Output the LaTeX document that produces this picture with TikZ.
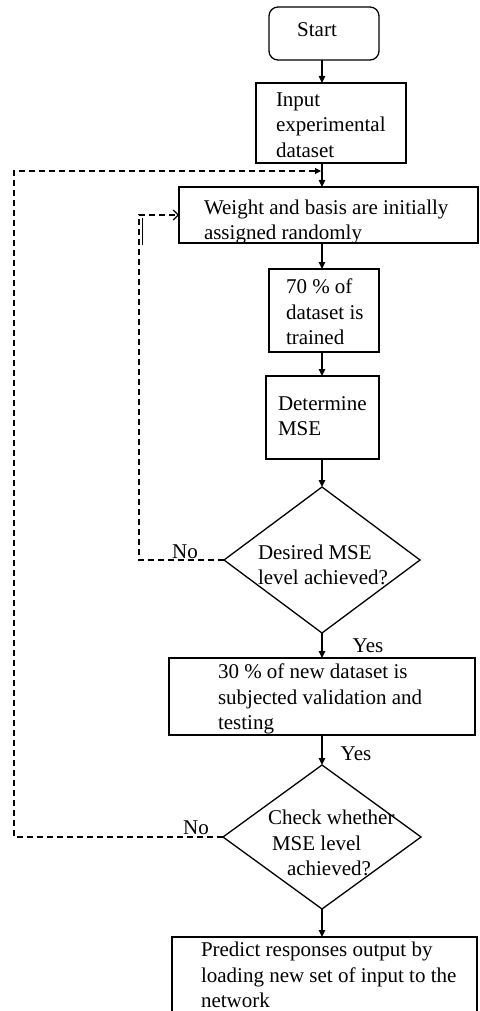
\documentclass[tikz,border=0pt]{standalone}
\usepackage{fontspec}
\setmainfont{Liberation Serif}
\usetikzlibrary{arrows.meta,shapes.geometric}
\begin{document}
\begin{tikzpicture}[x=1pt,y=-1pt,
  every node/.style={font=\fontsize{21}{25.5}\selectfont, inner sep=0pt, outer sep=0pt},
  boxnode/.style={draw, line width=1.3pt},
  diam/.style={draw, line width=1.3pt, shape=diamond, inner sep=0pt},
  txt/.style={anchor=west, align=left},
  arr/.style={line width=1.3pt, -{Triangle[length=7pt,width=6.5pt]}},
  dashline/.style={line width=1.1pt, dash pattern=on 6pt off 4pt},
]
\useasboundingbox (0,0) rectangle (479,1011);
\clip (0,0) rectangle (479,1011);

% boxes
\node[boxnode, rounded corners=9pt, minimum width=110pt, minimum height=53pt] (start) at (324,33.5) {};
\node[boxnode, minimum width=150pt, minimum height=80pt] (input) at (331,123) {};
\node[boxnode, minimum width=299pt, minimum height=56pt] (weight) at (328.5,215) {};
\node[boxnode, minimum width=110pt, minimum height=83pt] (train) at (324,310.5) {};
\node[boxnode, minimum width=113pt, minimum height=83pt] (mse) at (322.5,417.5) {};
\node[diam, minimum width=196pt, minimum height=146pt] (d1) at (322,560) {};
\node[boxnode, minimum width=306pt, minimum height=77pt] (val) at (322,696.5) {};
\node[diam, minimum width=198pt, minimum height=144pt] (d2) at (322,837) {};
\node[boxnode, minimum width=305pt, minimum height=80pt] (pred) at (324.5,977) {};

% texts
\node (tStart) at (317,30) {Start};
\node[txt] (tInput) at (276,125) {Input\\experimental\\dataset};
\node[txt] (tWeight) at (204,222) {Weight and basis are initially\\assigned randomly};
\node[txt] (tTrain) at (286,312) {70 \% of\\dataset is\\trained};
\node[txt] (tMse) at (278,416) {Determine\\MSE};
\node[txt] (tD1) at (258,565) {Desired MSE\\level achieved?};
\node[txt] (tVal) at (218,699) {30 \% of new dataset is\\subjected validation and\\testing};
\node[txt] (tD2) at (268,843) {Check whether\\\hspace{4pt}MSE level\\\hspace{19pt}achieved?};
\node[txt] (tPred) at (201,975) {Predict responses output by\\loading new set of input to the\\network};

\node (no1) at (185,552) {No};
\node (no2) at (196,828) {No};
\node (yes1) at (368,646) {Yes};
\node (yes2) at (356,754) {Yes};

% main flow arrows
\coordinate (axis) at (322,0);
\draw[arr] (axis |- start.south) -- (axis |- input.north);
\draw[arr] (axis |- input.south) -- (axis |- weight.north);
\draw[arr] (axis |- weight.south) -- (axis |- train.north);
\draw[arr] (axis |- train.south) -- (axis |- mse.north);
\draw[arr] (axis |- mse.south) -- (d1.north);
\draw[arr] (d1.south) -- (axis |- val.north);
\draw[arr] (axis |- val.south) -- (d2.north);
\draw[arr] (d2.south) -- (axis |- pred.north);

% feedback loops
\coordinate (m1) at (321,171);
\coordinate (L1) at (14,0);
\coordinate (L2) at (139,0);
\draw[dashline, -{Triangle[length=6pt,width=6pt]}] (d2.west) -- (L1 |- d2.west) |- (m1);
\draw[dashline, -{Straight Barb[length=5pt,width=10pt,line width=1.1pt]}] (d1.west) -- (L2 |- d1.west) |- (weight.west);
\draw[line width=1.4pt] (142.5,218) -- (142.5,245);
\end{tikzpicture}
\end{document}
